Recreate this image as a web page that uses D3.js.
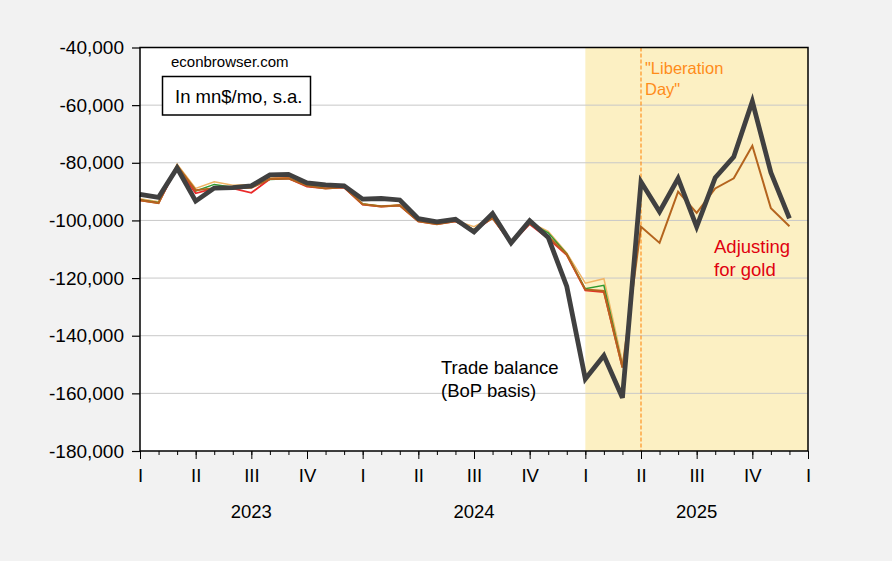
<!DOCTYPE html>
<html>
<head>
<meta charset="utf-8">
<script src="https://cdn.jsdelivr.net/npm/d3@7/dist/d3.min.js"></script>
<style>
  body { margin: 0; background: #f2f2f2; }
  text { font-family: "Liberation Sans", Arial, sans-serif; }
</style>
</head>
<body>
<div id="chart"></div>
<script>
// monthly observations, Jan 2023 .. Dec 2025 (mn$/mo, s.a.)
var months = d3.range(36);
var quarterLabels = ["I", "II", "III", "IV", "I", "II", "III", "IV", "I", "II", "III", "IV", "I"];
var years = ["2023", "2024", "2025"];
var yTicks = [-40000, -60000, -80000, -100000, -120000, -140000, -160000, -180000];

var tradeBalance = [-91000, -92000, -81800, -93300, -88800, -88600, -88000, -84200, -84000, -87000, -87700, -88000,
  -92600, -92400, -92900, -99400, -100500, -99600, -104000, -97600, -107800, -100100, -105900, -122900,
  -155000, -146900, -161500, -86600, -97000, -85400, -102200, -85200, -77900, -58700, -83400, -99300];
var seriesTan = [-92500, -93500, -80500, -88900, -86600, -87800, -87500, -85300, -85000, -87500, -88000, -88300,
  -94200, -95000, -94600, -100000, -101000, -100000, -102200, -98800, -107000, -100600, -103800, -111300,
  -121800, -120200, -149300];
var seriesGreen = [-92800, -93800, -81000, -89800, -87500, -88500, -88500, -85800, -85500, -87700, -88200, -88400,
  -94300, -95100, -94700, -100100, -101100, -100100, -103200, -99000, -107300, -100800, -104300, -111600,
  -123700, -122500, -150500];
var seriesRed = [-93000, -94000, -81500, -90600, -88900, -88900, -90400, -85600, -85400, -88300, -88900, -88600,
  -94500, -95200, -94800, -100300, -101300, -100300, -103600, -99200, -108000, -101300, -106300, -112000,
  -124300, -124900, -151000];
var adjGold = [-93000, -94000, -81000, -89500, -88800, -88800, -88700, -85600, -85400, -88000, -88900, -88500,
  -94400, -95200, -94800, -100300, -101300, -100300, -103300, -99200, -107800, -101000, -105500, -111800,
  -124000, -124500, -151000, -102200, -107800, -90000, -97400, -88900, -85400, -74100, -95800, -102000];

var width = 892, height = 561;
var plot = { left: 140, right: 808, top: 47.5, bottom: 451 };

var svg = d3.select("#chart").append("svg")
  .attr("width", width)
  .attr("height", height);

svg.append("rect").attr("width", width).attr("height", height).attr("fill", "#f2f2f2");

var x = d3.scaleLinear().domain([0, 36]).range([plot.left, plot.right]);
var y = d3.scaleLinear().domain([-180000, -40000]).range([plot.bottom, plot.top]);

// plot area
svg.append("rect")
  .attr("x", plot.left).attr("y", plot.top)
  .attr("width", plot.right - plot.left).attr("height", plot.bottom - plot.top)
  .attr("fill", "#ffffff");

// shaded 2025 onward
svg.append("rect")
  .attr("x", x(24)).attr("y", plot.top)
  .attr("width", x(36) - x(24)).attr("height", plot.bottom - plot.top)
  .attr("fill", "#fcf0c3");

// gridlines
svg.append("g").selectAll("line")
  .data(yTicks.slice(1, -1))
  .enter().append("line")
  .attr("x1", plot.left).attr("x2", plot.right)
  .attr("y1", function(d) { return y(d); }).attr("y2", function(d) { return y(d); })
  .attr("stroke", "#c8c8c8").attr("stroke-width", 1);

// Liberation Day marker (Apr 2025)
svg.append("line")
  .attr("x1", x(27)).attr("x2", x(27))
  .attr("y1", plot.top).attr("y2", plot.bottom)
  .attr("stroke", "#ff8000").attr("stroke-width", 1)
  .attr("stroke-dasharray", "4,2");

// lines
var line = d3.line()
  .x(function(d, i) { return x(i); })
  .y(function(d) { return y(d); });

var series = [
  { data: seriesTan, color: "#f0b464", w: 1.5 },
  { data: seriesGreen, color: "#2f9a2f", w: 1.5 },
  { data: seriesRed, color: "#ea2a2a", w: 1.8 },
  { data: adjGold, color: "#b4641e", w: 2 },
  { data: tradeBalance, color: "#404040", w: 4.8 }
];
series.forEach(function(s) {
  svg.append("path")
    .attr("d", line(s.data))
    .attr("fill", "none")
    .attr("stroke", s.color)
    .attr("stroke-width", s.w)
    .attr("stroke-linejoin", "miter");
});

// frame
svg.append("rect")
  .attr("x", plot.left).attr("y", plot.top)
  .attr("width", plot.right - plot.left).attr("height", plot.bottom - plot.top)
  .attr("fill", "none").attr("stroke", "#000").attr("stroke-width", 1.5);

// y axis (plain hyphen for minus, as in the original)
var fmt = d3.format(",");
var yAxis = svg.append("g")
  .attr("transform", "translate(" + plot.left + ",0)")
  .call(d3.axisLeft(y).tickValues(yTicks).tickSize(8).tickPadding(8)
    .tickFormat(function(d) { return fmt(d).replace("\u2212", "-"); }));
yAxis.select(".domain").remove();
yAxis.selectAll("text").attr("font-size", 19).attr("fill", "#000")
  .style("font-family", "'Liberation Sans', Arial, sans-serif");
yAxis.selectAll("line").attr("stroke", "#000").attr("stroke-width", 1.2);

// x axis: monthly minor ticks
var xMinor = svg.append("g")
  .attr("transform", "translate(0," + plot.bottom + ")")
  .call(d3.axisBottom(x).tickValues(d3.range(37)).tickSize(4).tickFormat(""));
xMinor.select(".domain").remove();
xMinor.selectAll("line").attr("stroke", "#000");

// x axis: quarter ticks with labels
var xMajor = svg.append("g")
  .attr("transform", "translate(0," + plot.bottom + ")")
  .call(d3.axisBottom(x).tickValues(d3.range(0, 37, 3)).tickSize(8).tickPadding(10)
    .tickFormat(function(d) { return quarterLabels[d / 3]; }));
xMajor.select(".domain").remove();
xMajor.selectAll("line").attr("stroke", "#000");
xMajor.selectAll("text").attr("font-size", 18.5).attr("fill", "#000")
  .style("font-family", "'Liberation Sans', Arial, sans-serif");

// year labels
svg.append("g").selectAll("text")
  .data(years)
  .enter().append("text")
  .attr("x", function(d, i) { return x(i * 12 + 6); })
  .attr("y", 518)
  .attr("text-anchor", "middle")
  .attr("font-size", 18.5)
  .text(function(d) { return d; });

// annotations
svg.append("text").attr("x", 171).attr("y", 67).attr("font-size", 15).text("econbrowser.com");
svg.append("rect").attr("x", 162.5).attr("y", 76.5).attr("width", 148).attr("height", 38.5)
  .attr("fill", "#fff").attr("stroke", "#000").attr("stroke-width", 1.5);
svg.append("text").attr("x", 175).attr("y", 103).attr("font-size", 18.5).text("In mn$/mo, s.a.");

svg.append("text").attr("x", 441).attr("y", 373.5).attr("font-size", 18.5).text("Trade balance");
svg.append("text").attr("x", 441).attr("y", 397).attr("font-size", 18.5).text("(BoP basis)");

svg.append("text").attr("x", 714).attr("y", 252.5).attr("font-size", 18.5).attr("fill", "#e00010").text("Adjusting");
svg.append("text").attr("x", 714).attr("y", 276).attr("font-size", 18.5).attr("fill", "#e00010").text("for gold");

svg.append("text").attr("x", 645).attr("y", 74).attr("font-size", 16.5).attr("fill", "#ff8c1a").text("\"Liberation");
svg.append("text").attr("x", 645).attr("y", 94.5).attr("font-size", 16.5).attr("fill", "#ff8c1a").text("Day\"");
</script>
</body>
</html>
